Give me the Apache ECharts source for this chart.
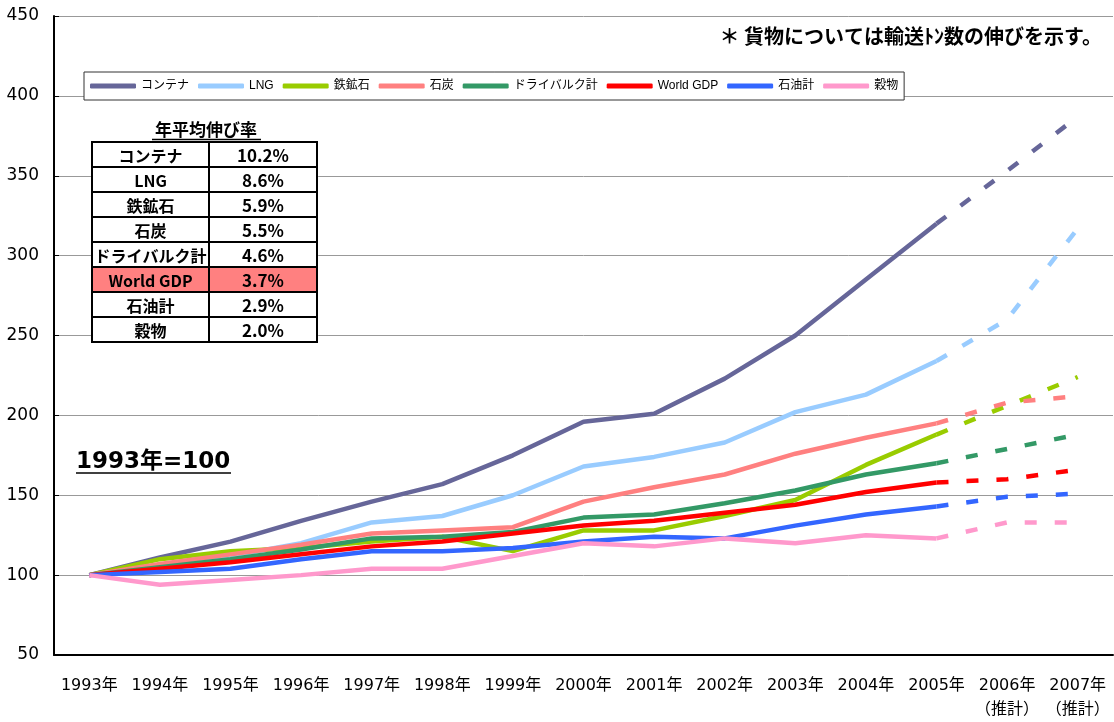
<!DOCTYPE html>
<html>
<head>
<meta charset="utf-8">
<script src="https://cdn.jsdelivr.net/npm/echarts@6/dist/echarts.min.js"></script>
<style>
  html, body { margin: 0; padding: 0; background: #fff; }
</style>
</head>
<body>
<div id="growth-echarts" style="width: 1114px; height: 722px"></div>
<script>
// 年次（2006・2007は推計）
var years = ['1993年', '1994年', '1995年', '1996年', '1997年', '1998年', '1999年', '2000年',
  '2001年', '2002年', '2003年', '2004年', '2005年', '2006年\n（推計）', '2007年\n（推計）'];
var yTicks = [50, 450, 50]; // min, max, interval

var names = ['コンテナ', 'LNG', '鉄鉱石', '石炭', 'ドライバルク計', 'World GDP', '石油計', '穀物'];

// 実績 1993-2005 (1993年=100)
var container = [100, 111, 121, 134, 146, 157, 175, 196, 201, 223, 250, 285, 320];
var lng = [100, 106, 112, 120, 133, 137, 150, 168, 174, 183, 202, 213, 234];
var ironOre = [100, 110, 115, 117, 121, 124, 115, 128, 128, 137, 147, 169, 188];
var coal = [100, 107, 113, 119, 126, 128, 130, 146, 155, 163, 176, 186, 195];
var dryBulk = [100, 105, 110, 116, 123, 124, 127, 136, 138, 145, 153, 163, 170];
var worldGdp = [100, 104, 108, 113, 118, 121, 126, 131, 134, 139, 144, 152, 158];
var oil = [100, 102, 104, 110, 115, 115, 117, 121, 124, 123, 131, 138, 143];
var grain = [100, 94, 97, 100, 104, 104, 112, 120, 118, 123, 120, 125, 123];

// 推計 2006-2007
var containerEst = [353, 387];
var lngEst = [260, 317];
var ironOreEst = [206, 224];
var coalEst = [208, 212];
var dryBulkEst = [179, 188];
var worldGdpEst = [160, 166];
var oilEst = [149, 151];
var grainEst = [133, 133];

// 年平均伸び率
var rateNames = ['コンテナ', 'LNG', '鉄鉱石', '石炭', 'ドライバルク計', 'World GDP', '石油計', '穀物'];
var rateValues = ['10.2%', '8.6%', '5.9%', '5.5%', '4.6%', '3.7%', '2.9%', '2.0%'];

var colors = ['#666699', '#99CCFF', '#99CC00', '#FF8080', '#339966', '#FF0000', '#3366FF', '#FF99CC'];
var actuals = [container, lng, ironOre, coal, dryBulk, worldGdp, oil, grain];
var estimates = [containerEst, lngEst, ironOreEst, coalEst, dryBulkEst, worldGdpEst, oilEst, grainEst];

var myChart = echarts.init(document.getElementById('growth-echarts'));

var series = [];
// 実線
for (var i = 0; i < names.length; i++) {
  series.push({
    name: names[i],
    type: 'line',
    symbol: 'none',
    data: actuals[i],
    lineStyle: { color: colors[i], width: 4.5 },
    itemStyle: { color: colors[i] }
  });
}
// 破線（2005 → 2007）
for (var j = 0; j < names.length; j++) {
  var d = [];
  for (var k = 0; k < actuals[j].length - 1; k++) d.push('-');
  d.push(actuals[j][actuals[j].length - 1]);
  d = d.concat(estimates[j]);
  series.push({
    name: names[j],
    type: 'line',
    symbol: 'none',
    data: d,
    lineStyle: { color: colors[j], width: 4.5, type: [12, 18] },
    itemStyle: { color: colors[j] }
  });
}

// 表（年平均伸び率）
var tblLeft = 92, tblTop = 142, col1 = 117, col2 = 108, rowH = 25;
var graphics = [];
for (var r = 0; r < rateNames.length; r++) {
  var fill = rateNames[r] === 'World GDP' ? '#FF8080' : '#fff';
  var yy = tblTop + r * rowH;
  graphics.push({
    type: 'rect', z: 100,
    shape: { x: tblLeft, y: yy, width: col1, height: rowH },
    style: { fill: fill, stroke: '#000', lineWidth: 2 }
  });
  graphics.push({
    type: 'rect', z: 100,
    shape: { x: tblLeft + col1, y: yy, width: col2, height: rowH },
    style: { fill: fill, stroke: '#000', lineWidth: 2 }
  });
  graphics.push({
    type: 'text', z: 101,
    x: tblLeft + col1 / 2, y: yy + rowH / 2 + 1,
    style: {
      text: rateNames[r], fill: '#000', font: 'bold 16px "Noto Sans CJK JP"',
      textAlign: 'center', textVerticalAlign: 'middle'
    }
  });
  graphics.push({
    type: 'text', z: 101,
    x: tblLeft + col1 + col2 / 2, y: yy + rowH / 2 + 1,
    style: {
      text: rateValues[r], fill: '#000', font: 'bold 17px "Noto Sans CJK JP"',
      textAlign: 'center', textVerticalAlign: 'middle'
    }
  });
}
graphics.push({
  type: 'text', z: 101, x: 206, y: 130,
  style: {
    text: '年平均伸び率', fill: '#000', font: 'bold 17px "Noto Sans CJK JP"',
    textAlign: 'center', textVerticalAlign: 'middle'
  }
});
graphics.push({
  type: 'line', z: 101,
  shape: { x1: 152, y1: 139.5, x2: 261, y2: 139.5 },
  style: { stroke: '#000', lineWidth: 1.5 }
});
// 1993年=100
graphics.push({
  type: 'text', z: 101, x: 76, y: 462,
  style: {
    text: '1993年=100', fill: '#000', font: 'bold 23px "DejaVu Sans", "Noto Sans CJK JP"',
    textAlign: 'left', textVerticalAlign: 'middle'
  }
});
graphics.push({
  type: 'line', z: 101,
  shape: { x1: 76, y1: 473, x2: 231, y2: 473 },
  style: { stroke: '#000', lineWidth: 1.5 }
});
// 注記
graphics.push({
  type: 'text', z: 101, x: 1102, y: 36,
  style: {
    text: '＊ 貨物については輸送ﾄﾝ数の伸びを示す。', fill: '#000',
    font: 'bold 20px "Noto Sans CJK JP"',
    textAlign: 'right', textVerticalAlign: 'middle'
  }
});

var option = {
  animation: false,
  backgroundColor: '#fff',
  textStyle: { fontFamily: '"DejaVu Sans", "Noto Sans CJK JP"' },
  grid: { left: 54, right: 1, top: 16, bottom: 62 },
  legend: {
    data: names,
    left: 84,
    top: 72,
    padding: [8, 6],
    itemGap: 9,
    itemWidth: 46,
    itemHeight: 5,
    icon: 'roundRect',
    backgroundColor: '#fff',
    borderColor: '#333',
    borderWidth: 1,
    borderRadius: 0,
    z: 50,
    textStyle: { color: '#000', fontSize: 12, fontFamily: '"Liberation Sans", "Noto Sans CJK JP"' }
  },
  xAxis: {
    type: 'category',
    data: years,
    boundaryGap: true,
    axisLine: { lineStyle: { color: '#000', width: 2 } },
    axisTick: { inside: true, length: 5, lineStyle: { color: '#000' } },
    axisLabel: { color: '#000', fontSize: 16, margin: 19, lineHeight: 24, interval: 0 },
    splitLine: { show: false }
  },
  yAxis: {
    type: 'value',
    min: yTicks[0],
    max: yTicks[1],
    interval: yTicks[2],
    axisLine: { show: true, lineStyle: { color: '#000', width: 2 } },
    axisTick: { show: true, inside: true, length: 5, lineStyle: { color: '#000' } },
    axisLabel: { color: '#000', fontSize: 17, margin: 15 },
    splitLine: { lineStyle: { color: '#999', width: 1 } }
  },
  graphic: graphics,
  series: series
};
myChart.setOption(option);
</script>
</body>
</html>
